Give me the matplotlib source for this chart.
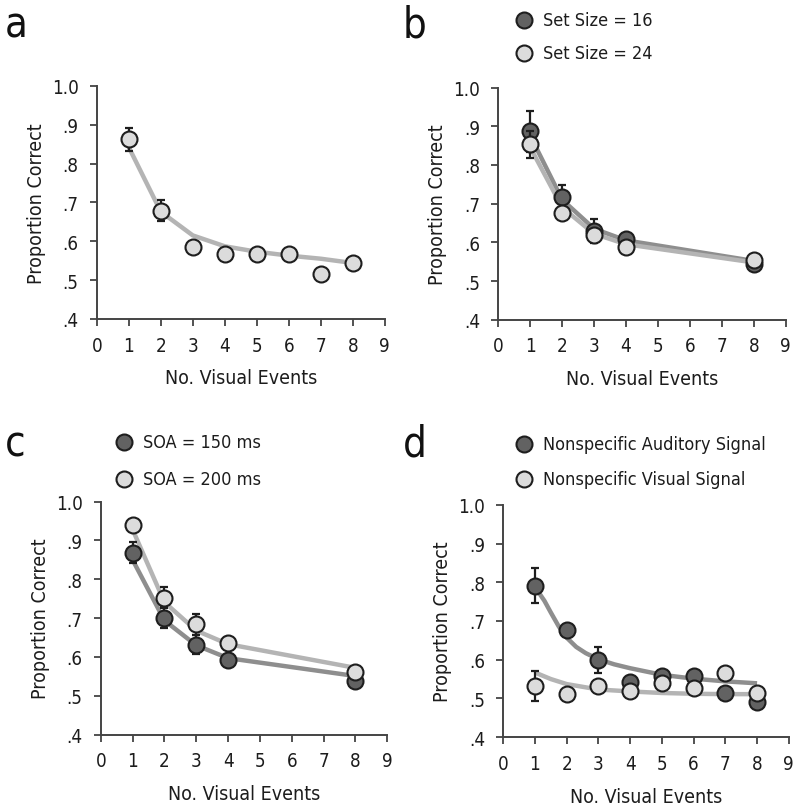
import matplotlib
matplotlib.use("Agg")
import matplotlib.pyplot as plt
from matplotlib.lines import Line2D
from matplotlib import font_manager

# Panel a: single condition
a_x = [1, 2, 3, 4, 5, 6, 7, 8]
a_y = [0.862, 0.679, 0.585, 0.566, 0.566, 0.566, 0.515, 0.543]
a_err = [0.029, 0.027, 0.012, 0.010, 0.010, 0.015, 0.010, 0.010]
a_fit_x = [1, 2, 3, 4, 5, 6, 7, 8]
a_fit_y = [0.842, 0.676, 0.615, 0.587, 0.573, 0.563, 0.555, 0.544]

# Panel b: set size
b_x = [1, 2, 3, 4, 8]
b16_y = [0.887, 0.717, 0.628, 0.609, 0.544]
b16_err = [0.053, 0.030, 0.031, 0.010, 0.010]
b24_y = [0.853, 0.675, 0.619, 0.589, 0.554]
b24_err = [0.035, 0.012, 0.012, 0.012, 0.010]
b16_fit = [0.875, 0.710, 0.635, 0.605, 0.552]
b24_fit = [0.845, 0.690, 0.622, 0.595, 0.548]

# Panel c: SOA
c_x = [1, 2, 3, 4, 8]
c150_y = [0.869, 0.701, 0.632, 0.591, 0.537]
c150_err = [0.028, 0.027, 0.024, 0.010, 0.010]
c200_y = [0.939, 0.753, 0.684, 0.637, 0.561]
c200_err = [0.010, 0.027, 0.027, 0.015, 0.012]
c150_fit = [0.850, 0.694, 0.630, 0.597, 0.551]
c200_fit = [0.928, 0.741, 0.668, 0.633, 0.572]

# Panel d: nonspecific signals
d_x = [1, 2, 3, 4, 5, 6, 7, 8]
d_aud_y = [0.791, 0.676, 0.600, 0.543, 0.557, 0.557, 0.514, 0.491]
d_aud_err = [0.045, 0.015, 0.034, 0.015, 0.012, 0.010, 0.010, 0.015]
d_vis_y = [0.533, 0.511, 0.533, 0.520, 0.540, 0.526, 0.566, 0.514]
d_vis_err = [0.039, 0.010, 0.010, 0.010, 0.010, 0.010, 0.015, 0.010]
d_aud_fit_x = [1.1, 1.3, 1.5, 1.75, 2, 2.3, 2.6, 3, 3.5, 4, 5, 6, 7, 8]
d_aud_fit_y = [0.776, 0.752, 0.722, 0.686, 0.657, 0.633, 0.617, 0.601,
               0.588, 0.578, 0.561, 0.551, 0.544, 0.539]
d_vis_fit_x = [1, 1.5, 2, 3, 4, 5, 6, 7, 8]
d_vis_fit_y = [0.567, 0.550, 0.537, 0.523, 0.518, 0.514, 0.512, 0.511, 0.511]

x_ticks = list(range(10))
y_ticks = [0.4, 0.5, 0.6, 0.7, 0.8, 0.9, 1.0]
y_ticklabels = [".4", ".5", ".6", ".7", ".8", ".9", "1.0"]

DARK = "#626262"
LIGHT = "#dcdcdc"
DARK_LINE = "#8e8e8e"
LIGHT_LINE = "#b4b4b4"
EDGE = "#1e1e1e"

# pick a narrow sans if one is installed, otherwise shrink the text
narrow = [f for f in font_manager.fontManager.ttflist
          if ("Narrow" in f.name or "Condensed" in f.name
              or "Condensed" in f.fname or "Narrow" in f.fname
              or f.stretch in ("condensed", "semi-condensed"))
          and f.style == "normal" and f.weight in (400, "normal", "regular")]
if narrow:
    plt.rcParams["font.family"] = [narrow[0].name, "DejaVu Sans"]
    plt.rcParams["font.stretch"] = narrow[0].stretch
    k = 1.0
else:
    plt.rcParams["font.family"] = ["DejaVu Sans"]
    k = 0.86

TICK_FS = 13.5 * k
LABEL_FS = 14 * k
LEG_FS = 13 * k
TXT = "#1c1c1c"

fig = plt.figure(figsize=(8.0, 8.12), dpi=100)

rects = {
    "a": [0.121, 0.606, 0.360, 0.287],
    "b": [0.623, 0.605, 0.359, 0.286],
    "c": [0.126, 0.094, 0.358, 0.287],
    "d": [0.629, 0.091, 0.357, 0.286],
}


def style_axis(ax):
    ax.set_xlim(0, 9)
    ax.set_ylim(0.4, 1.0)
    ax.spines["top"].set_visible(False)
    ax.spines["right"].set_visible(False)
    for s in ("left", "bottom"):
        ax.spines[s].set_color("#444444")
        ax.spines[s].set_linewidth(1.4)
    ax.set_xticks(x_ticks)
    ax.set_yticks(y_ticks)
    ax.set_yticklabels(y_ticklabels)
    ax.tick_params(direction="out", length=5, width=1.3, color="#444444",
                   labelsize=TICK_FS, labelcolor=TXT)
    ax.tick_params(axis="x", pad=7)
    ax.tick_params(axis="y", pad=8)
    ax.set_xlabel("No. Visual Events", fontsize=LABEL_FS, color=TXT, labelpad=10)
    ax.set_ylabel("Proportion Correct", fontsize=LABEL_FS, color=TXT, labelpad=4.5)


def series(ax, x, y, err, fill, z):
    ax.errorbar(x, y, yerr=err, fmt="none", ecolor=EDGE, elinewidth=1.6,
                capsize=3.2, capthick=1.6, zorder=z)
    ax.plot(x, y, "o", ms=11.5, mfc=fill, mec=EDGE, mew=1.5, zorder=z + 0.5,
            clip_on=False)


def fit(ax, x, y, color):
    ax.plot(x, y, "-", color=color, lw=3.2, solid_capstyle="butt",
            solid_joinstyle="round", zorder=2)


ax_a = fig.add_axes(rects["a"])
ax_b = fig.add_axes(rects["b"])
ax_c = fig.add_axes(rects["c"])
ax_d = fig.add_axes(rects["d"])

# a
fit(ax_a, a_fit_x, a_fit_y, LIGHT_LINE)
series(ax_a, a_x, a_y, a_err, LIGHT, 3)

# b
fit(ax_b, b_x, b16_fit, DARK_LINE)
fit(ax_b, b_x, b24_fit, LIGHT_LINE)
series(ax_b, b_x, b16_y, b16_err, DARK, 3)
series(ax_b, b_x, b24_y, b24_err, LIGHT, 5)

# c
fit(ax_c, c_x, c150_fit, DARK_LINE)
fit(ax_c, c_x, c200_fit, LIGHT_LINE)
series(ax_c, c_x, c150_y, c150_err, DARK, 3)
series(ax_c, c_x, c200_y, c200_err, LIGHT, 5)

# d
fit(ax_d, d_aud_fit_x, d_aud_fit_y, DARK_LINE)
fit(ax_d, d_vis_fit_x, d_vis_fit_y, LIGHT_LINE)
series(ax_d, d_x, d_aud_y, d_aud_err, DARK, 3)
series(ax_d, d_x, d_vis_y, d_vis_err, LIGHT, 5)

for ax in (ax_a, ax_b, ax_c, ax_d):
    style_axis(ax)

# panel letters
for letter, (px, py) in {"a": (0.006, 0.968), "b": (0.503, 0.968),
                         "c": (0.006, 0.452), "d": (0.503, 0.452)}.items():
    fig.text(px, py, letter, fontsize=30 * k, color="#111111", va="center", ha="left")


def legend_entry(x, y, fill, label):
    fig.add_artist(Line2D([x / 800], [1 - y / 812], marker="o", ms=11.5, mfc=fill,
                          mec=EDGE, mew=1.5, linestyle="none",
                          transform=fig.transFigure))
    fig.text((x + 19) / 800, 1 - y / 812, label, fontsize=LEG_FS, color=TXT,
             va="center", ha="left")


legend_entry(524, 21, DARK, "Set Size = 16")
legend_entry(524, 54, LIGHT, "Set Size = 24")
legend_entry(124, 443, DARK, "SOA = 150 ms")
legend_entry(124, 480, LIGHT, "SOA = 200 ms")
legend_entry(524, 445, DARK, "Nonspecific Auditory Signal")
legend_entry(524, 480, LIGHT, "Nonspecific Visual Signal")

fig.savefig("out.png", dpi=100)
